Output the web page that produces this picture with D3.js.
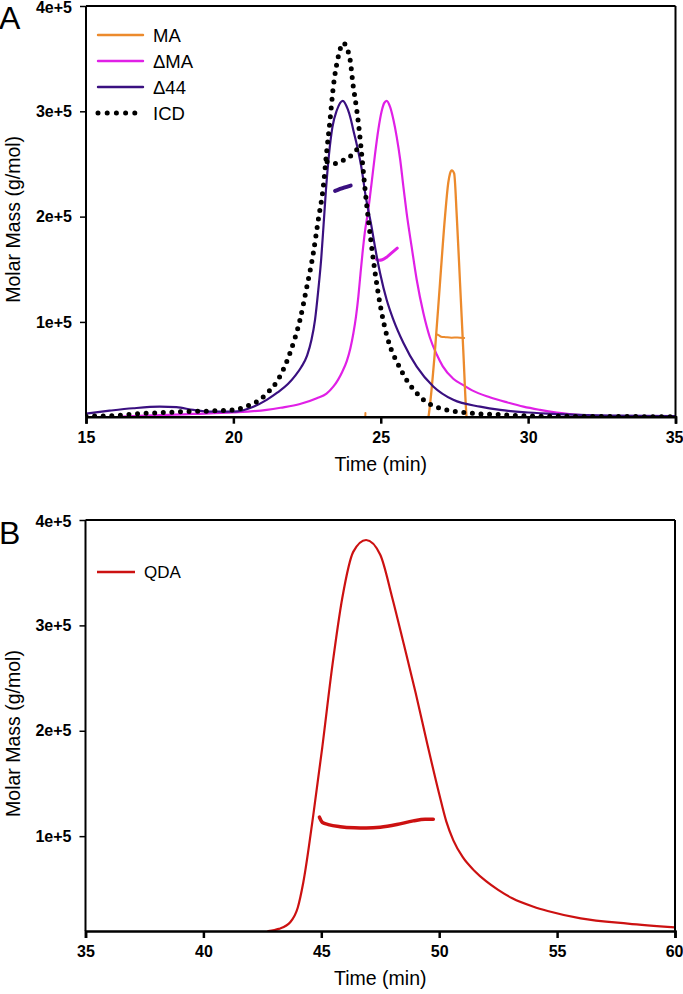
<!DOCTYPE html>
<html>
<head>
<meta charset="utf-8">
<script src="https://cdn.jsdelivr.net/npm/d3@7"></script>
<style>
  html, body { margin: 0; padding: 0; background: #fff; }
  svg { display: block; }
</style>
</head>
<body>
<svg id="chart" width="683" height="994"></svg>
<script>
// ---------------- DATA ----------------
const xTicksA = [15, 20, 25, 30, 35];
const xTicksB = [35, 40, 45, 50, 55, 60];
const yTicks = [100000, 200000, 300000, 400000];
const yTickLabels = ["1e+5", "2e+5", "3e+5", "4e+5"];

const seriesNamesA = ["MA", "ΔMA", "Δ44", "ICD"];

// Panel A: [time (min), molar mass (g/mol)]
const maTick = [[24.47, 4000], [24.48, 13500]];
const maPeak = [[26.55, 0], [26.62, 10000], [26.84, 73000], [27.01, 137000], [27.18, 200000], [27.29, 232000],
  [27.35, 241000], [27.41, 244000], [27.49, 241000], [27.58, 200000], [27.69, 137000], [27.80, 73000],
  [27.91, 10000], [27.95, 0]];
const maMass = [[26.90, 88000], [26.96, 87500], [27.05, 86000], [27.2, 85500], [27.4, 85000], [27.6, 85300], [27.83, 84800]];

const dmaPeak = [[16.2, 10000], [17, 11000], [18, 12000], [18.64, 12600], [20, 14000], [21.13, 16500], [21.6, 18500],
  [22.26, 22000], [22.83, 27500], [23.16, 32000], [23.39, 38500], [23.55, 45000], [23.7, 53000], [23.85, 63000],
  [23.97, 75000], [24.07, 89000], [24.16, 105000], [24.24, 124000], [24.31, 145000], [24.38, 165000],
  [24.46, 185000], [24.58, 207000], [24.69, 232000],
  [24.8, 258000], [24.92, 283000], [25.03, 300000], [25.12, 308000], [25.2, 310000], [25.32, 304000], [25.43, 292000],
  [25.54, 276000], [25.66, 254000], [25.77, 228000], [25.88, 203000], [26.05, 171000], [26.22, 140000], [26.45, 108000],
  [26.67, 85000], [26.9, 69000], [27.1, 58000], [27.46, 46000], [27.8, 40000], [28.1, 35000], [28.7, 28500],
  [29.3, 23500], [29.84, 19500], [30.4, 16500], [30.97, 14000], [31.8, 11500], [32.5, 10000]];
const dmaMass = [[24.85, 159500], [24.95, 158500], [25.05, 159000], [25.2, 161500], [25.35, 165000], [25.56, 170000]];

const d44Peak = [[15, 13000], [15.8, 15700], [16.6, 18000], [17.5, 19500], [18.07, 19000], [18.64, 16400], [19.2, 14800],
  [20, 14800], [20.68, 19500], [21.13, 26000], [21.5, 33000], [21.85, 41000], [22.1, 49000], [22.3, 57000],
  [22.5, 68000], [22.65, 83000], [22.77, 102000], [22.88, 130000], [22.98, 160000], [23.06, 192000], [23.14, 225000],
  [23.24, 258000], [23.36, 285000], [23.51, 301000], [23.71, 310000], [23.88, 302000], [23.98, 293000], [24.07, 282000],
  [24.19, 268000], [24.36, 244000], [24.49, 219000], [24.58, 206000], [24.69, 190000], [24.8, 172000],
  [24.98, 146000], [25.2, 121000], [25.43, 102000], [25.77, 80000], [26.22, 57500], [26.79, 38500], [27.46, 26000],
  [28.37, 19500], [29.05, 16400], [30, 14000], [31, 12500], [32, 11500], [33, 11000], [35, 10500]];
const d44Mass = [[23.45, 224500], [23.6, 226000], [23.75, 227500], [23.98, 229500]];

const icdPeak = [[15, 10500], [15.8, 10800], [16.25, 11600], [16.9, 13000], [17.5, 13800], [18.4, 14800], [19.2, 15400],
  [20, 16400], [20.68, 22700], [20.9, 26000], [21.13, 32000], [21.47, 43000], [21.92, 70500], [22.26, 102000],
  [22.49, 133000], [22.71, 165000], [22.88, 197000], [23.05, 228000], [23.16, 260000], [23.28, 292000],
  [23.39, 323000], [23.56, 352000], [23.73, 365000], [23.85, 360000], [23.96, 349000], [24.07, 323000],
  [24.12, 314000], [24.27, 282000], [24.35, 260000], [24.46, 228000], [24.58, 197000], [24.72, 165000],
  [24.88, 133000], [25.08, 102000], [25.32, 76500], [25.55, 62000], [25.88, 44800], [26.2, 33000], [26.45, 26000],
  [27.01, 18000], [28.14, 13200], [29, 12000], [30.4, 10500], [35, 10000]];
const icdMass = [[23.18, 252000], [23.35, 250500], [23.5, 250500], [23.73, 253500], [23.95, 257000], [24.07, 260000],
  [24.2, 264000], [24.33, 268000]];

// Panel B
const seriesNamesB = ["QDA"];
const qdaPeak = [[42.75, 10000], [43.2, 12000], [43.69, 18500], [44.0, 32000], [44.24, 56500], [44.66, 120000],
  [45.04, 184000], [45.47, 262000], [45.89, 326000], [46.36, 370000], [46.9, 381000], [47.5, 367000],
  [48.0, 327000], [48.5, 282000], [49.0, 236000], [49.5, 187000], [50.0, 140000], [50.3, 114000], [50.6, 96000],
  [51.0, 80000], [51.5, 67000], [52.0, 57000], [52.5, 49000], [53.1, 41000], [54.0, 33000], [54.6, 29000],
  [56.0, 22000], [58, 17000], [60, 13500]];
const qdaMass = [[44.92, 118000], [45.05, 113000], [45.3, 111000], [45.8, 109000], [46.4, 108000], [46.9, 107800],
  [47.5, 108500], [48.2, 111000], [48.9, 114500], [49.4, 116000], [49.75, 116000]];

// ---------------- COLORS ----------------
const cMA = "#ec8a2c", cDMA = "#e020e6", cD44 = "#3a1080", cICD = "#000000", cQDA = "#cc1111";
const FONT = "'Liberation Sans', Arial, Helvetica, sans-serif";

// ---------------- DRAW ----------------
const svg = d3.select("#chart");
const fmtLbl = v => yTickLabels[yTicks.indexOf(v)];

function styleTicks(sel) {
  sel.selectAll(".tick text")
    .style("font-family", FONT).style("font-weight", "bold").style("font-size", "16px").attr("fill", "#000");
}

function panel(opts) {
  const { x, y, xTicks, top, bottom, left, right, letter, letterY, id } = opts;
  const g = svg.append("g");
  g.append("defs").append("clipPath").attr("id", id)
    .append("rect").attr("x", left).attr("y", top - 2).attr("width", right - left).attr("height", bottom - top + 2);
  const plot = g.append("g").attr("clip-path", `url(#${id})`);

  g.append("line").attr("x1", left).attr("x2", right).attr("y1", top).attr("y2", top)
    .attr("stroke", "#000").attr("stroke-width", 2);
  g.append("line").attr("x1", right).attr("x2", right).attr("y1", top).attr("y2", bottom)
    .attr("stroke", "#000").attr("stroke-width", 2);

  const xa = g.append("g").attr("transform", `translate(0,${bottom})`)
    .call(d3.axisBottom(x).tickValues(xTicks).tickSize(7).tickPadding(8).tickFormat(d3.format("d")));
  xa.select(".domain").attr("stroke-width", 2.5);
  xa.selectAll(".tick line").attr("stroke-width", 2.5);
  styleTicks(xa);
  // keep the last label inside the page edge
  xa.selectAll(".tick").filter(d => d === xTicks[xTicks.length - 1]).select("text")
    .attr("text-anchor", "end").attr("x", 683 - right);

  const ya = g.append("g").attr("transform", `translate(${left},0)`)
    .call(d3.axisLeft(y).tickValues(yTicks).tickSize(6).tickPadding(8).tickFormat(fmtLbl));
  ya.select(".domain").attr("stroke-width", 2).attr("d", `M-0,${bottom}V${top}`);
  ya.selectAll(".tick line").attr("stroke-width", 1.5);
  styleTicks(ya);
  ya.selectAll(".tick").filter(d => d === 400000).select("text").attr("dy", "0.42em");

  g.append("text").attr("x", (left + right) / 2).attr("y", bottom + 54)
    .attr("text-anchor", "middle").style("font-family", FONT).style("font-size", "19.5px").text("Time (min)");
  g.append("text")
    .attr("transform", `translate(20,${(top + bottom) / 2 + 8}) rotate(-90)`)
    .attr("text-anchor", "middle").style("font-family", FONT).style("font-size", "19.5px").text("Molar Mass (g/mol)");
  g.append("text").attr("x", -1).attr("y", letterY)
    .style("font-family", FONT).style("font-size", "32px").text(letter);
  return { g, plot };
}

function path(plot, data, gen, color, w, extra) {
  const p = plot.append("path").datum(data).attr("d", gen).attr("fill", "none")
    .attr("stroke", color).attr("stroke-width", w).attr("stroke-linejoin", "round").attr("stroke-linecap", "round");
  if (extra) extra(p);
  return p;
}

// Panel A
const xA = d3.scaleLinear().domain([15, 35]).range([86, 675.5]);
const yA = d3.scaleLinear().domain([10000, 400000]).range([416.7, 6]);
const A = panel({ x: xA, y: yA, xTicks: xTicksA, top: 6, bottom: 416.7, left: 86, right: 675.5, letter: "A", letterY: 29, id: "clipA" });
const lineA = d3.line().x(d => xA(d[0])).y(d => yA(d[1])).curve(d3.curveMonotoneX);
const lineAlin = d3.line().x(d => xA(d[0])).y(d => yA(d[1]));

path(A.plot, dmaPeak, lineA, cDMA, 2.2);
path(A.plot, dmaMass, lineA, cDMA, 3);
path(A.plot, maTick, lineAlin, cMA, 2);
path(A.plot, maPeak, lineA, cMA, 2.3);
path(A.plot, maMass, lineA, cMA, 2);
path(A.plot, d44Peak, lineA, cD44, 2.2);
path(A.plot, d44Mass, lineA, cD44, 4);
path(A.plot, icdPeak, lineA, cICD, 5, p => p.attr("stroke-dasharray", "0 8.6"));
path(A.plot, icdMass, lineA, cICD, 5, p => p.attr("stroke-dasharray", "0 8.6"));

const legColors = [cMA, cDMA, cD44, cICD];
const legY0 = 35, legDY = 26;
seriesNamesA.forEach((name, i) => {
  const yy = legY0 + i * legDY;
  const ln = A.g.append("line").attr("x1", 98).attr("x2", 143).attr("y1", yy).attr("y2", yy)
    .attr("stroke", legColors[i]).attr("stroke-width", 2.4).attr("stroke-linecap", "round");
  if (name === "ICD") ln.attr("stroke-width", 5).attr("stroke-dasharray", "0 9.2");
  A.g.append("text").attr("x", 153).attr("y", yy + 6.5)
    .style("font-family", FONT).style("font-size", "18.5px").text(name);
});

// Panel B
const xB = d3.scaleLinear().domain([35, 60]).range([85.5, 675]);
const yB = d3.scaleLinear().domain([10000, 400000]).range([931, 520]);
const B = panel({ x: xB, y: yB, xTicks: xTicksB, top: 520, bottom: 931, left: 85.5, right: 675, letter: "B", letterY: 544, id: "clipB" });
const lineB = d3.line().x(d => xB(d[0])).y(d => yB(d[1])).curve(d3.curveMonotoneX);
path(B.plot, qdaPeak, lineB, cQDA, 2.2);
path(B.plot, qdaMass, lineB, cQDA, 3.5);

seriesNamesB.forEach((name) => {
  const yy = 572;
  B.g.append("line").attr("x1", 97).attr("x2", 135).attr("y1", yy).attr("y2", yy)
    .attr("stroke", cQDA).attr("stroke-width", 2.4);
  B.g.append("text").attr("x", 144).attr("y", yy + 6)
    .style("font-family", FONT).style("font-size", "17px").text(name);
});
</script>
</body>
</html>
